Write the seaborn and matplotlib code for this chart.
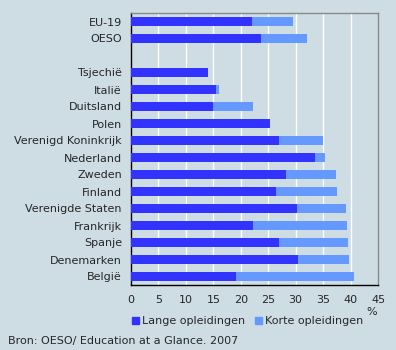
import matplotlib
matplotlib.use("Agg")
import matplotlib.pyplot as plt
import seaborn as sns
import pandas as pd
from matplotlib.patches import Patch

landen = ["EU-19", "OESO", " ", "Tsjechië", "Italië", "Duitsland", "Polen",
          "Verenigd Koninkrijk", "Nederland", "Zweden", "Finland",
          "Verenigde Staten", "Frankrijk", "Spanje", "Denemarken", "België"]
lange = [22.0, 23.6, 0.0, 14.1, 15.4, 15.0, 25.4, 26.9, 33.6, 28.3, 26.5,
         30.2, 22.2, 26.9, 30.5, 19.1]
korte = [7.5, 8.4, 0.0, 0.0, 0.6, 7.3, 0.0, 8.0, 1.7, 9.0, 11.0,
         8.9, 17.1, 12.7, 9.3, 21.5]
xticks = [0, 5, 10, 15, 20, 25, 30, 35, 40, 45]

bg = "#cddde3"
donker = "#3333ff"
licht = "#6699ff"

df = pd.DataFrame({"land": landen, "lange": lange, "korte": korte})
df["totaal"] = df["lange"] + df["korte"]

sns.set_style("white")
plt.rcParams["font.family"] = ["DejaVu Sans"]
fs = 8

fig = plt.figure(figsize=(3.96, 3.5), dpi=100, facecolor=bg)
ax = fig.add_axes([131 / 396, 1 - 285 / 350, 247 / 396, 272 / 350])
ax.set_facecolor(bg)

sns.barplot(data=df, x="totaal", y="land", order=landen, color=licht,
            orient="h", width=0.53, saturation=1, linewidth=0, ax=ax, zorder=2)
sns.barplot(data=df, x="lange", y="land", order=landen, color=donker,
            orient="h", width=0.53, saturation=1, linewidth=0, ax=ax, zorder=3)

ax.set_xlim(0, 45)
ax.set_ylim(15.5, -0.5)
ax.set_xticks(xticks)
ax.set_xticklabels([str(t) for t in xticks], fontsize=fs)
ax.set_xlabel("")
ax.set_ylabel("")
ax.tick_params(axis="y", length=0, labelsize=fs, pad=6.5)
ax.tick_params(axis="x", length=3, width=1, color="black", pad=4)

for v in xticks[1:-1]:
    ax.axvline(v, color="white", lw=1, zorder=1)

for side in ("left", "bottom"):
    ax.spines[side].set_color("black")
    ax.spines[side].set_linewidth(1)
for side in ("top", "right"):
    ax.spines[side].set_color("#888888")
    ax.spines[side].set_linewidth(1)
    ax.spines[side].set_visible(True)

fig.text(372 / 396, 1 - 312 / 350, "%", fontsize=fs, ha="center", va="center")

handles = [Patch(color=donker, label="Lange opleidingen"),
           Patch(color=licht, label="Korte opleidingen")]
fig.legend(handles=handles, loc="center", bbox_to_anchor=(248 / 396, 1 - 321 / 350),
           ncol=2, frameon=False, fontsize=fs, handlelength=0.6, handleheight=0.6,
           handletextpad=0.3, columnspacing=0.9)

fig.text(8 / 396, 1 - 341 / 350, "Bron: OESO/ Education at a Glance. 2007",
         fontsize=fs, ha="left", va="center")

fig.savefig("out.png", dpi=100, facecolor=bg)
